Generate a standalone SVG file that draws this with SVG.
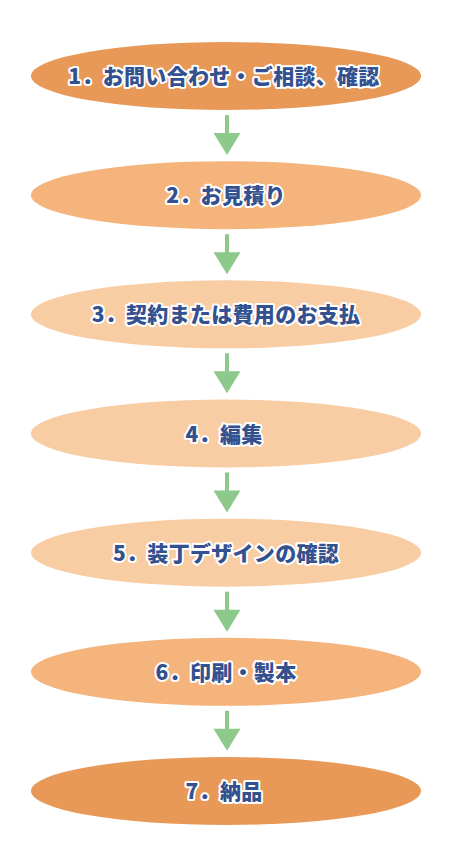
<svg xmlns="http://www.w3.org/2000/svg" width="451" height="852" viewBox="0 0 451 852">
<style>
.c1{fill:#e89957}
.c2{fill:#f4b47c}
.c3{fill:#f8cda4}
.lbl{font-family:"Noto Sans CJK JP","Noto Sans",sans-serif;font-weight:900;font-size:21px;fill:#33508f;stroke:#ffffff;stroke-width:4;stroke-linejoin:round;paint-order:stroke fill;text-anchor:middle;dominant-baseline:central;letter-spacing:0.3px}
.shaft{fill:#8dc98b}
</style>
<defs>
<g id="arr">
<rect class="shaft" x="225" y="0" width="4" height="19"/>
<polygon class="shaft" points="213.5,18 240.5,18 227,40"/>
</g>
</defs>
<g id="connectors">
<use href="#arr" x="0" y="115"/>
<use href="#arr" x="0" y="234.2"/>
<use href="#arr" x="0" y="353.3"/>
<use href="#arr" x="0" y="472.5"/>
<use href="#arr" x="0" y="591.7"/>
<use href="#arr" x="0" y="710.8"/>
</g>
<g id="n1"><ellipse class="c1" cx="226" cy="76" rx="195" ry="34"/><text class="lbl" x="224" y="75">1．お問い合わせ・ご相談、確認</text></g>
<g id="n2"><ellipse class="c2" cx="226" cy="195.2" rx="195" ry="34"/><text class="lbl" x="226" y="194.2">2．お見積り</text></g>
<g id="n3"><ellipse class="c3" cx="226" cy="314.3" rx="195" ry="34"/><text class="lbl" x="226" y="313.3">3．契約または費用のお支払</text></g>
<g id="n4"><ellipse class="c3" cx="226" cy="433.5" rx="195" ry="34"/><text class="lbl" x="224" y="432.5">4．編集</text></g>
<g id="n5"><ellipse class="c3" cx="226" cy="552.7" rx="195" ry="34"/><text class="lbl" x="226" y="551.7">5．装丁デザインの確認</text></g>
<g id="n6"><ellipse class="c2" cx="226" cy="671.8" rx="195" ry="34"/><text class="lbl" x="226" y="670.8">6．印刷・製本</text></g>
<g id="n7"><ellipse class="c1" cx="226" cy="791" rx="195" ry="34"/><text class="lbl" x="224" y="790">7．納品</text></g>
</svg>
